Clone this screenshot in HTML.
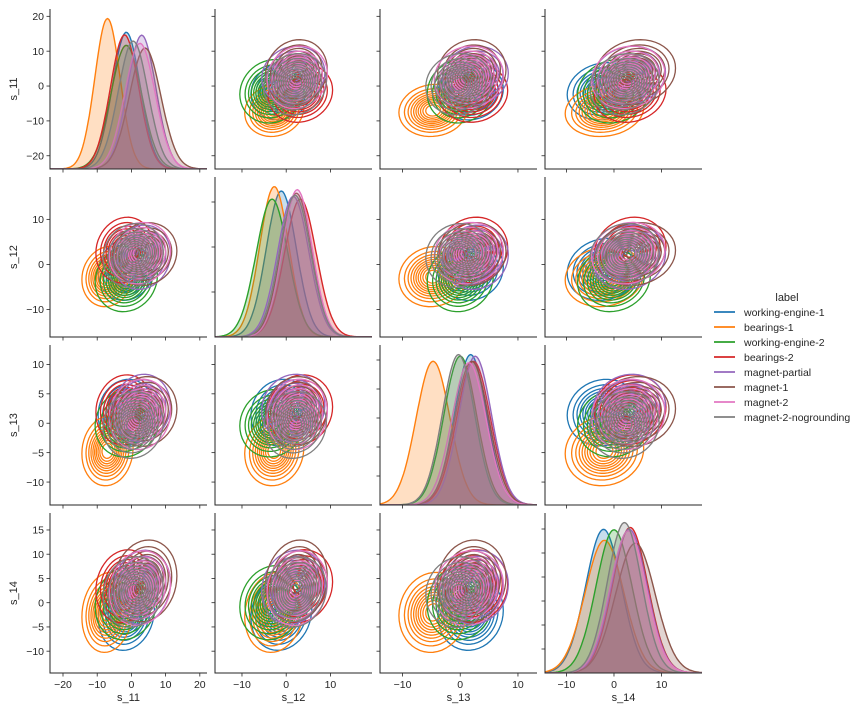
<!DOCTYPE html>
<html><head><meta charset="utf-8">
<style>
html,body{margin:0;padding:0;background:#fff;}
svg{display:block;font-family:"Liberation Sans","DejaVu Sans",sans-serif;}
</style></head>
<body>
<svg id="chart" width="866" height="716" viewBox="0 0 866 716" xmlns="http://www.w3.org/2000/svg"></svg>
<script>
const variables = ["s_11","s_12","s_13","s_14"];
const groups = ["working-engine-1","bearings-1","working-engine-2","bearings-2","magnet-partial","magnet-1","magnet-2","magnet-2-nogrounding"];
const colors = ["#1f77b4","#ff7f0e","#2ca02c","#d62728","#9467bd","#8c564b","#e377c2","#7f7f7f"];
// group means per variable
const meanS11 = [-1.5,-7,-1.5,-2,3,4,2.5,0.5];
const meanS12 = [-1.1,-2.7,-3.2,3.2,1.6,2.3,2.5,2];
const meanS13 = [1.8,-4.7,0,2.3,2.6,2,1.5,-0.3];
const meanS14 = [-2.2,-2,0,3.4,3.2,4.5,3,2.2];
// group standard deviations per variable
const sdS11 = [4.07,3.7,4.5,4.15,4.16,4.6,4.43,4.35];
const sdS12 = [3.4,3.3,3.6,3.6,3.53,3.45,3.37,3.5];
const sdS13 = [2.8,2.93,2.83,2.93,2.83,2.93,2.96,2.8];
const sdS14 = [3.77,4.08,3.78,3.72,3.77,4.17,3.81,3.6];
// correlation between variable pairs
const corrPairs = [[0,1,0.1],[0,2,0.08],[0,3,0.12],[1,2,0.08],[1,3,0.12],[2,3,0.08]];
const xTicks = [[-20,-10,0,10,20],[-10,0,10],[-10,0,10],[-10,0,10]];
const yTicks = [[-20,-10,0,10,20],[-10,0,10],[-10,-5,0,5,10],[-10,-5,0,5,10,15]];
const ranges = [[-23.8,22.1],[-16.1,19.4],[-13.9,13.3],[-14.5,18.5]];
const contourMass = [0.92,0.83,0.74,0.65,0.56,0.47,0.38,0.29,0.2,0.11];

const means=[meanS11,meanS12,meanS13,meanS14];
const sds=[sdS11,sdS12,sdS13,sdS14];
const NS="http://www.w3.org/2000/svg";
const svg=document.getElementById('chart');
const colLeft=[50,215,380,545], rowTop=[9,177,345,513], PW=157, PH=160;
function mk(tag,attrs,parent){const e=document.createElementNS(NS,tag);for(const k in attrs)e.setAttribute(k,attrs[k]);(parent||svg).appendChild(e);return e;}
function xs(v,c,val){const r=ranges[v];return colLeft[c]+(val-r[0])/(r[1]-r[0])*PW;}
function ys(v,r_,val){const r=ranges[v];return rowTop[r_]+PH-(val-r[0])/(r[1]-r[0])*PH;}
function corr(a,b){for(const p of corrPairs){if((p[0]===a&&p[1]===b)||(p[0]===b&&p[1]===a))return p[2];}return 0;}
const defs=mk('defs',{});
for(let r=0;r<4;r++)for(let c=0;c<4;c++){
  const cp=mk('clipPath',{id:'clip'+r+c},defs);
  mk('rect',{x:colLeft[c],y:rowTop[r],width:PW,height:PH},cp);
}
for(let r=0;r<4;r++){
  for(let c=0;c<4;c++){
    const g=mk('g',{});
    
    
    const plot=mk('g',{'clip-path':'url(#clip'+r+c+')'},g);
    if(r===c){
      const v=c; const rg=ranges[v];
      let maxd=0;
      for(let k=0;k<groups.length;k++){maxd=Math.max(maxd,1/sds[v][k]);}
      const N=120;
      for(let k=0;k<groups.length;k++){
        const m=means[v][k], s=sds[v][k];
        let pts=[];
        for(let i=0;i<=N;i++){
          const val=rg[0]+(rg[1]-rg[0])*i/N;
          const d=Math.exp(-0.5*((val-m)/s)**2)/s/maxd;
          pts.push([xs(v,c,val), rowTop[r]+PH-d*0.94*PH]);
        }
        const line=pts.map((p,i)=>(i?'L':'M')+p[0].toFixed(1)+','+p[1].toFixed(1)).join('');
        const area=mk('path',{d:line+'L'+pts[N][0].toFixed(1)+','+(rowTop[r]+PH)+'L'+pts[0][0].toFixed(1)+','+(rowTop[r]+PH)+'Z',fill:colors[k],'fill-opacity':0.25,stroke:'none'},plot);
        
        
        const ln=mk('path',{d:line,fill:'none',stroke:colors[k],'stroke-width':1.4},plot);
        
        
      }
    } else {
      const vx=c, vy=r, rho=corr(vx,vy);
      for(let k=0;k<groups.length;k++){
        const mx=means[vx][k], my=means[vy][k], sx=sds[vx][k]*0.9, sy=sds[vy][k]*0.9;
        for(const p of contourMass){
          const rad=Math.sqrt(-2*Math.log(1-p));
          let d='';
          for(let i=0;i<=48;i++){
            const t=i/48*2*Math.PI, u=Math.cos(t), w=Math.sin(t);
            const X=mx+rad*sx*u, Y=my+rad*sy*(rho*u+Math.sqrt(1-rho*rho)*w);
            d+=(i?'L':'M')+xs(vx,c,X).toFixed(1)+','+ys(vy,r,Y).toFixed(1);
          }
          const e=mk('path',{d:d+'Z',fill:'none',stroke:colors[k],'stroke-width':1.3},plot);
          
          
        }
      }
    }
    const sp=mk('path',{d:'M'+colLeft[c]+','+rowTop[r]+'V'+(rowTop[r]+PH)+'H'+(colLeft[c]+PW),fill:'none',stroke:'#262626','stroke-width':1},g);
    
    
    for(const t of xTicks[c]){
      const x=xs(c,c,t);
      mk('line',{x1:x,x2:x,y1:rowTop[r]+PH,y2:rowTop[r]+PH+3.5,stroke:'#262626','stroke-width':0.8},g);
      if(r===3){
        const tx=mk('text',{x:x,y:rowTop[r]+PH+15,'text-anchor':'middle','font-size':10.5,fill:'#262626'},g);
        tx.textContent=(t<0?'\u2212'+(-t):t);
        
        
      }
    }
    if(r!==c || r===0){
      for(const t of yTicks[r]){
        const y=ys(r,r,t);
        mk('line',{x1:colLeft[c]-3.5,x2:colLeft[c],y1:y,y2:y,stroke:'#262626','stroke-width':0.8},g);
        if(c===0){
          const ty=mk('text',{x:colLeft[c]-6,y:y+3.7,'text-anchor':'end','font-size':10.5,fill:'#262626'},g);
          ty.textContent=(t<0?'\u2212'+(-t):t);
          
          
        }
      }
    } else {
      for(let i=1;i<=7;i++){
        const y=rowTop[r]+PH-i*(r===3?24:r===2?29:45);
        if(y<rowTop[r])break;
        mk('line',{x1:colLeft[c]-3.5,x2:colLeft[c],y1:y,y2:y,stroke:'#262626','stroke-width':0.8},g);
      }
    }
  }
}
for(let i=0;i<4;i++){
  const cx=colLeft[i]+PW/2;
  const xl=mk('text',{x:cx,y:701,'text-anchor':'middle','font-size':11,fill:'#262626'});
  xl.textContent=variables[i];
  
  
  const cy=rowTop[i]+PH/2;
  const yl=mk('text',{x:17,y:cy,'text-anchor':'middle','font-size':11,fill:'#262626',transform:'rotate(-90 17 '+cy+')'});
  yl.textContent=variables[i];
  
  
}
const lg=mk('g',{});


const lt=mk('text',{x:787,y:301,'text-anchor':'middle','font-size':11,fill:'#262626'},lg);
lt.textContent='label';


for(let k=0;k<groups.length;k++){
  const y=312+k*15;
  const en=mk('g',{},lg);
  
  
  mk('line',{x1:714,x2:735,y1:y,y2:y,stroke:colors[k],'stroke-width':1.8},en);
  const t=mk('text',{x:744,y:y+3.8,'font-size':10.5,fill:'#262626'},en);
  t.textContent=groups[k];
}
</script>
</body></html>
